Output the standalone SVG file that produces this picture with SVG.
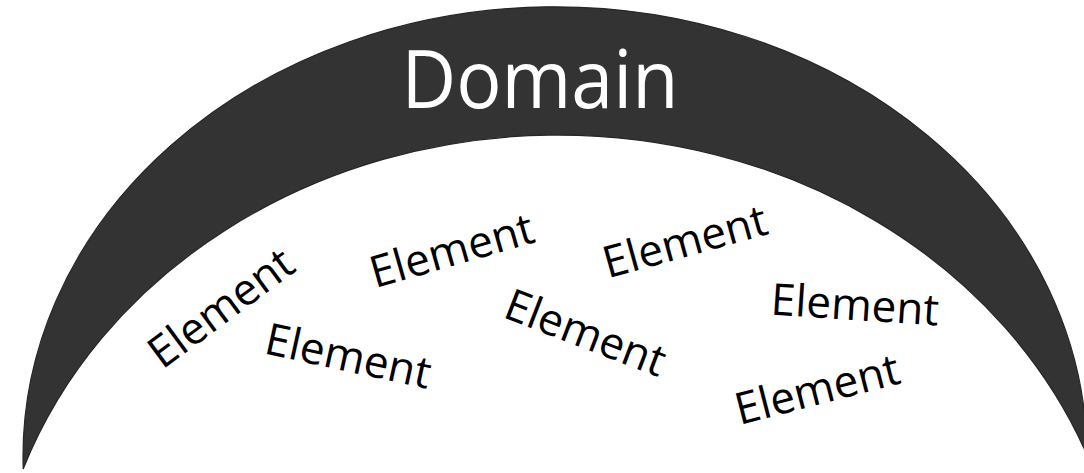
<svg xmlns="http://www.w3.org/2000/svg" width="1084" height="473" viewBox="0 0 1084 473">
<style>
.arch{fill:#333333;stroke:#262626;stroke-width:1.2}
.title{font-family:"Open Sans","Noto Sans","DejaVu Sans",sans-serif;font-size:80px;fill:#ffffff}
.el{font-family:"Open Sans","Noto Sans","DejaVu Sans",sans-serif;font-size:44px;fill:#000000;text-anchor:middle}
</style>
<rect width="1084" height="473" fill="#ffffff"/>
<g id="domain">
<path class="arch" d="M 23.2 469 A 532 450 0 1 1 1087 455 A 567 500 0 0 0 23.2 469 Z"/>
<text class="title" x="540" y="108" text-anchor="middle" textLength="277" lengthAdjust="spacingAndGlyphs">Domain</text>
</g>
<g id="element1"><text class="el" transform="translate(230,320) rotate(-36.5)">Element</text></g>
<g id="element2"><text class="el" transform="translate(345,371) rotate(12.3)">Element</text></g>
<g id="element3"><text class="el" transform="translate(456,265) rotate(-16)">Element</text></g>
<g id="element4"><text class="el" transform="translate(580,347) rotate(21)">Element</text></g>
<g id="element5"><text class="el" transform="translate(689,256) rotate(-15.5)">Element</text></g>
<g id="element6"><text class="el" transform="translate(854,320) rotate(3.8)">Element</text></g>
<g id="element7"><text class="el" transform="translate(821,404) rotate(-14.5)">Element</text></g>
<g id="connectors"></g>
</svg>
